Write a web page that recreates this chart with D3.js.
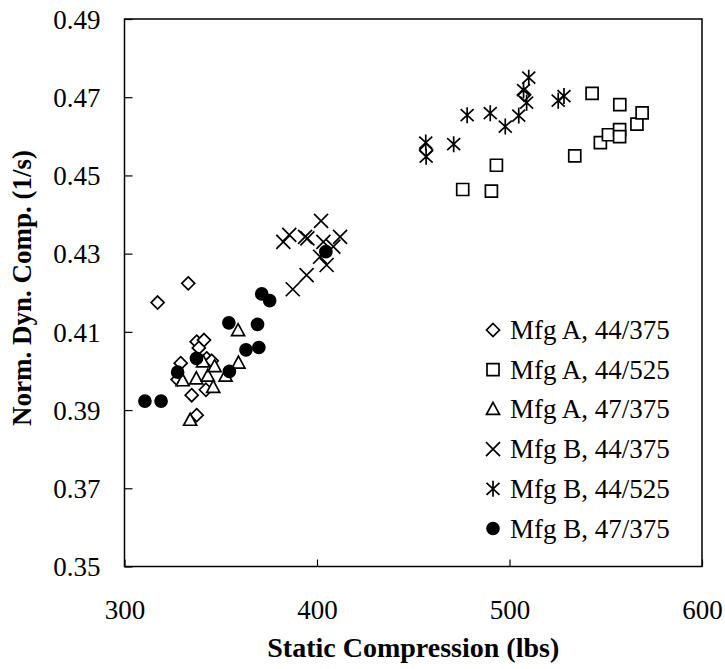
<!DOCTYPE html>
<html>
<head>
<meta charset="utf-8">
<script src="https://cdn.jsdelivr.net/npm/d3@7"></script>
<style>
    body { margin: 0; background: #fff; }
    text { font-family: "Liberation Serif", "Times New Roman", serif; fill: #000; }
</style>
</head>
<body>
<svg id="chart" width="725" height="669"></svg>
<script>
// series data: [static compression (lbs), norm. dyn. comp. (1/s)]
let mfgA44_375 = [[317.2, 0.4175], [333.1, 0.4224], [337.5, 0.4075], [341.3, 0.4079], [338.6, 0.4059],
    [329.2, 0.4020], [327.6, 0.3978], [334.9, 0.3938], [337.5, 0.3887], [342.7, 0.4032],
    [345.3, 0.4026], [342.3, 0.3952], [456.7, 0.4565], [507.6, 0.4706]];
let mfgA44_525 = [[475.7, 0.4464], [490.6, 0.4460], [493.2, 0.4526], [533.9, 0.4550], [542.9, 0.4710],
    [547.2, 0.4584], [551.4, 0.4604], [557.2, 0.4617], [557.2, 0.4599], [557.3, 0.4681],
    [566.2, 0.4631], [568.9, 0.4660]];
let mfgA47_375 = [[334.1, 0.3874], [330.2, 0.3975], [337.3, 0.3980], [340.8, 0.4023], [343.3, 0.3987],
    [346.1, 0.3958], [346.8, 0.4011], [352.5, 0.3987], [359.0, 0.4103], [359.2, 0.4020]];
let mfgB44_375 = [[382.5, 0.4330], [385.6, 0.4348], [393.8, 0.4343], [395.0, 0.4339], [402.1, 0.4384],
    [403.3, 0.4330], [408.5, 0.4318], [412.0, 0.4343], [401.6, 0.4292], [405.0, 0.4271],
    [394.6, 0.4245], [387.4, 0.4209]];
let mfgB44_525 = [[456.5, 0.4584], [456.7, 0.4548], [471.0, 0.4580], [478.0, 0.4654], [490.0, 0.4659],
    [497.8, 0.4625], [504.8, 0.4653], [507.3, 0.4718], [508.9, 0.4686], [510.0, 0.4750],
    [525.3, 0.4691], [528.3, 0.4703]];
let mfgB47_375 = [[310.6, 0.3923], [319.0, 0.3923], [327.6, 0.3997], [337.4, 0.4032], [354.2, 0.4123],
    [354.5, 0.3999], [363.1, 0.4054], [369.1, 0.4119], [369.8, 0.4060], [371.3, 0.4197],
    [375.4, 0.4180], [404.6, 0.4305]];

let seriesNames = ["Mfg A, 44/375", "Mfg A, 44/525", "Mfg A, 47/375",
    "Mfg B, 44/375", "Mfg B, 44/525", "Mfg B, 47/375"];
let xTicks = [300, 400, 500, 600];
let yTicks = [0.35, 0.37, 0.39, 0.41, 0.43, 0.45, 0.47, 0.49];

// marker shapes, drawn around 0,0
function markerPath(kind) {
    let p = d3.path();
    if (kind == "diamond") {
        p.moveTo(0, -6.5); p.lineTo(6.5, 0); p.lineTo(0, 6.5); p.lineTo(-6.5, 0); p.closePath();
    } else if (kind == "square") {
        p.rect(-6, -6, 12, 12);
    } else if (kind == "triangle") {
        p.moveTo(0, -7); p.lineTo(6.5, 5); p.lineTo(-6.5, 5); p.closePath();
    } else if (kind == "cross") {
        p.moveTo(-7, -7); p.lineTo(7, 7); p.moveTo(-7, 7); p.lineTo(7, -7);
    } else if (kind == "star") {
        p.moveTo(-6.5, -6); p.lineTo(6.5, 6); p.moveTo(-6.5, 6); p.lineTo(6.5, -6);
        p.moveTo(0, -8); p.lineTo(0, 8);
    } else {
        p.arc(0, 0, 6, 0, 2 * Math.PI);
    }
    return p.toString();
}

let series = [
    {name: seriesNames[0], data: mfgA44_375, kind: "diamond", fill: "#fff"},
    {name: seriesNames[1], data: mfgA44_525, kind: "square", fill: "#fff"},
    {name: seriesNames[2], data: mfgA47_375, kind: "triangle", fill: "#fff"},
    {name: seriesNames[3], data: mfgB44_375, kind: "cross", fill: "none"},
    {name: seriesNames[4], data: mfgB44_525, kind: "star", fill: "none"},
    {name: seriesNames[5], data: mfgB47_375, kind: "circle", fill: "#000"}
];

let svg = d3.select("#chart");
let plotLeft = 124.5, plotRight = 702, plotTop = 19, plotBottom = 566.5;

let x = d3.scaleLinear().domain([300, 600]).range([plotLeft, plotRight]);
let y = d3.scaleLinear().domain([0.35, 0.49]).range([plotBottom, plotTop]);

// frame
svg.append("rect")
    .attr("x", plotLeft).attr("y", plotTop)
    .attr("width", plotRight - plotLeft).attr("height", plotBottom - plotTop)
    .attr("fill", "none").attr("stroke", "#000").attr("stroke-width", 1.5);

// axes with inside ticks
let xAxis = svg.append("g")
    .attr("transform", "translate(0," + plotBottom + ")")
    .call(d3.axisBottom(x).tickValues(xTicks).tickSizeInner(-7).tickSizeOuter(0)
        .tickFormat(d3.format("d")).tickPadding(0));
xAxis.select(".domain").remove();
xAxis.selectAll(".tick line").attr("stroke", "#000").attr("stroke-width", 1.2);
xAxis.selectAll(".tick text")
    .attr("y", 52).attr("dy", null)
    .style("font-size", "27px").style("font-family", "Liberation Serif");

let yAxis = svg.append("g")
    .attr("transform", "translate(" + plotLeft + ",0)")
    .call(d3.axisLeft(y).tickValues(yTicks).tickSizeInner(-8).tickSizeOuter(0)
        .tickFormat(d3.format(".2f")));
yAxis.select(".domain").remove();
yAxis.selectAll(".tick line").attr("stroke", "#000").attr("stroke-width", 1.2);
yAxis.selectAll(".tick text")
    .attr("x", -24).attr("dy", "0.34em")
    .style("font-size", "27px").style("font-family", "Liberation Serif");

// axis titles
svg.append("text")
    .attr("x", (plotLeft + plotRight) / 2).attr("y", 657)
    .attr("text-anchor", "middle")
    .style("font-size", "28px").style("font-weight", "bold")
    .text("Static Compression (lbs)");

svg.append("text")
    .attr("transform", "translate(31,288) rotate(-90)")
    .attr("text-anchor", "middle")
    .style("font-size", "27px").style("font-weight", "bold")
    .text("Norm. Dyn. Comp. (1/s)");

// points, in series order so later series sit on top
for (let s of series) {
    svg.append("g").selectAll("path")
        .data(s.data)
        .enter()
        .append("path")
        .attr("transform", d => "translate(" + x(d[0]) + "," + y(d[1]) + ")")
        .attr("d", markerPath(s.kind))
        .attr("fill", s.fill)
        .attr("stroke", "#000")
        .attr("stroke-width", 1.7);
}

// legend
let legendY = d3.scaleLinear().domain([0, 5]).range([330, 528.5]);
let legend = svg.append("g").selectAll("g")
    .data(series)
    .enter()
    .append("g")
    .attr("transform", (d, i) => "translate(493," + legendY(i) + ")");
legend.append("path")
    .attr("d", d => markerPath(d.kind))
    .attr("fill", d => d.fill)
    .attr("stroke", "#000")
    .attr("stroke-width", 1.7);
legend.append("text")
    .attr("x", 17).attr("y", 9)
    .style("font-size", "27px")
    .text(d => d.name);
</script>
</body>
</html>
